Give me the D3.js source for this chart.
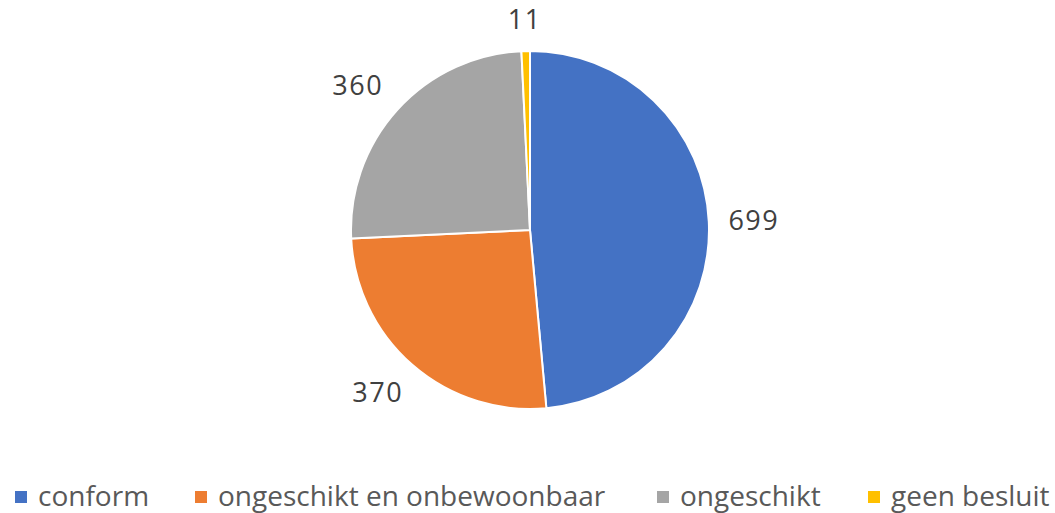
<!DOCTYPE html>
<html>
<head>
<meta charset="utf-8">
<script src="https://cdn.jsdelivr.net/npm/d3@7"></script>
<style>
  html, body { margin: 0; padding: 0; background: #fff; }
  svg { display: block; font-family: "Open Sans", sans-serif; }
</style>
</head>
<body>
<div id="chart"></div>
<script>
// chart data
const categories = ["conform", "ongeschikt en onbewoonbaar", "ongeschikt", "geen besluit"];
const values = [699, 370, 360, 11];
const colors = ["#4472C4", "#ED7D31", "#A5A5A5", "#FFC000"];
// legend item x positions (square left edge)
const legendX = [15, 195, 657, 868];

const width = 1055;
const height = 513;
const cx = 530, cy = 230, radius = 179;

const svg = d3.select("#chart")
  .append("svg")
    .attr("width", width)
    .attr("height", height)
    .attr("viewBox", [0, 0, width, height]);

const data = categories.map((c, i) => ({ name: c, value: values[i], color: colors[i] }));

const pie = d3.pie()
    .sort(null)
    .value(d => d.value);

const arcs = pie(data);

const arc = d3.arc()
    .innerRadius(0)
    .outerRadius(radius);

const g = svg.append("g")
    .attr("transform", `translate(${cx},${cy})`);

g.selectAll("path")
  .data(arcs)
  .join("path")
    .attr("d", arc)
    .attr("fill", d => d.data.color)
    .attr("stroke", "#fff")
    .attr("stroke-width", 2)
    .attr("stroke-linejoin", "round");

// data labels, outside end
const gap = 20, hw = 25, hh = 12;
g.selectAll("text.lbl")
  .data(arcs)
  .join("text")
    .attr("class", "lbl")
    .attr("transform", d => {
      const a = (d.startAngle + d.endAngle) / 2;
      const s = Math.sin(a), c = Math.cos(a);
      const m = Math.max(Math.abs(s), Math.abs(c));
      const x = (radius + gap) * s + hw * s / m;
      const y = -(radius + gap) * c - hh * c / m;
      return `translate(${x},${y})`;
    })
    .attr("text-anchor", "middle")
    .attr("dy", "0.36em")
    .attr("fill", "#404040")
    .attr("font-size", 27)
    .attr("letter-spacing", 1.5)
    .text(d => d.data.value);

// legend
const legend = svg.append("g")
  .selectAll("g")
  .data(data)
  .join("g")
    .attr("transform", (d, i) => `translate(${legendX[i]},0)`);

legend.append("rect")
    .attr("x", 0)
    .attr("y", 491)
    .attr("width", 12)
    .attr("height", 12)
    .attr("fill", d => d.color);

legend.append("text")
    .attr("x", 23)
    .attr("y", 506)
    .attr("fill", "#595959")
    .attr("font-size", 28)
    .text(d => d.name);
</script>
</body>
</html>
